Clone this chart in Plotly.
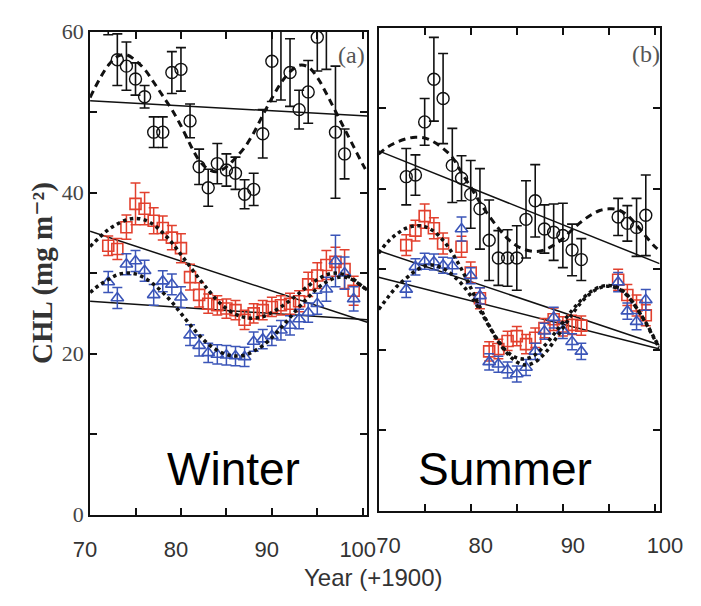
import plotly.graph_objects as go

W, H = 701, 606

# ---------------- Winter (a) ----------------
w_circ_years = [72, 73, 74, 75, 76, 77, 78, 79, 80, 81, 82, 83, 84, 85, 86, 87, 88, 89, 90, 91, 92, 93, 94, 95, 96, 97, 98]
w_circ_vals = [63.0, 56.5, 55.7, 54.1, 51.9, 47.5, 47.5, 54.9, 55.3, 48.9, 43.2, 40.6, 43.6, 42.8, 42.4, 39.8, 40.4, 47.3, 56.3, 61.5, 54.9, 50.3, 52.5, 59.3, 62.5, 47.5, 44.8]
w_circ_err = [3.4, 3.2, 3.0, 2.0, 1.4, 1.9, 1.9, 2.6, 2.7, 2.1, 2.2, 2.3, 2.5, 2.0, 2.0, 1.8, 2.0, 3.0, 5.0, 10.0, 4.2, 2.4, 3.9, 4.2, 7.2, 8.2, 3.1]

w_red_years = [72, 73, 74, 75, 76, 77, 78, 79, 80, 81, 82, 83, 84, 85, 86, 87, 88, 89, 90, 91, 92, 93, 94, 95, 96, 97, 98, 99]
w_red_vals = [33.4, 33.0, 35.7, 38.6, 38.0, 36.5, 35.6, 34.4, 33.1, 29.5, 27.3, 26.2, 26.0, 25.6, 25.4, 24.2, 25.0, 25.4, 25.8, 26.0, 26.2, 26.5, 28.6, 29.7, 31.0, 31.4, 30.5, 27.8]
w_red_err = [1.2, 1.3, 1.5, 2.6, 2.0, 1.6, 1.5, 1.5, 1.8, 1.6, 1.5, 1.2, 1.2, 1.2, 1.2, 1.2, 1.2, 1.2, 1.2, 1.2, 1.3, 1.3, 1.5, 1.6, 1.8, 1.8, 2.4, 1.8]

w_blue_years = [72, 73, 74, 75, 76, 77, 78, 79, 80, 81, 82, 83, 84, 85, 86, 87, 88, 89, 90, 91, 92, 93, 94, 95, 96, 97, 98, 99]
w_blue_vals = [28.9, 26.9, 31.1, 31.5, 30.3, 27.3, 29.0, 28.6, 27.0, 22.3, 21.0, 20.1, 19.9, 19.8, 19.7, 19.6, 21.5, 21.8, 22.2, 22.9, 23.5, 24.3, 25.1, 26.2, 28.0, 31.5, 30.0, 26.8]
w_blue_err = [1.3, 1.3, 1.3, 1.3, 1.3, 1.3, 1.3, 1.3, 1.3, 1.3, 1.3, 1.2, 1.2, 1.2, 1.2, 1.2, 1.2, 1.2, 1.2, 1.2, 1.2, 1.2, 1.2, 1.3, 1.5, 3.2, 2.0, 1.5]

fit_years = [70, 71, 72, 73, 74, 75, 76, 77, 78, 79, 80, 81, 82, 83, 84, 85, 86, 87, 88, 89, 90, 91, 92, 93, 94, 95, 96, 97, 98, 99, 100, 100.5]
w_circ_fit = [51.8, 54.0, 55.8, 56.9, 57.1, 56.4, 55.3, 53.7, 52.0, 50.3, 48.3, 46.0, 44.0, 42.9, 42.6, 43.2, 44.3, 45.6, 47.4, 49.6, 51.7, 53.6, 55.0, 55.8, 55.6, 54.3, 52.3, 50.1, 47.9, 45.7, 43.5, 42.5]
w_red_fit = [33.3, 34.4, 35.4, 36.1, 36.6, 36.8, 36.6, 36.0, 35.0, 33.8, 32.3, 30.8, 29.3, 27.9, 26.6, 25.6, 24.9, 24.5, 24.4, 24.6, 25.1, 25.8, 26.6, 27.5, 28.4, 29.2, 29.8, 30.0, 29.8, 29.2, 28.3, 27.9]
w_blue_fit = [27.6, 28.5, 29.2, 29.8, 30.0, 29.9, 29.4, 28.6, 27.6, 26.4, 25.0, 23.6, 22.3, 21.2, 20.4, 19.9, 19.7, 19.8, 20.3, 21.0, 22.0, 23.2, 24.5, 25.8, 27.0, 28.1, 28.9, 29.4, 29.5, 29.1, 28.3, 27.9]

trend_x = [70, 100.5]
w_circ_trend = [51.4, 49.5]
w_red_trend = [35.2, 23.9]
w_blue_trend = [26.5, 24.2]

# ---------------- Summer (b) ----------------
s_circ_years = [73, 74, 75, 76, 77, 78, 79, 80, 81, 82, 83, 84, 85, 86, 87, 88, 89, 90, 91, 92, 96, 97, 98, 99]
s_circ_vals = [41.5, 41.7, 48.3, 53.6, 51.2, 42.9, 41.3, 39.3, 37.5, 33.6, 31.4, 31.4, 31.4, 36.2, 38.5, 35.0, 34.6, 34.2, 32.4, 31.2, 36.5, 35.7, 35.2, 36.7]
s_circ_err = [3.5, 2.5, 2.9, 5.2, 5.6, 4.6, 2.8, 4.2, 5.0, 5.0, 3.4, 3.5, 4.0, 4.8, 4.5, 3.0, 3.5, 4.0, 3.2, 2.6, 2.3, 2.2, 3.6, 5.0]

s_red_years = [73, 74, 75, 76, 77, 79, 80, 81, 82, 83, 84, 85, 86, 87, 88, 89, 90, 91, 92, 96, 97, 98, 99]
s_red_vals = [33.0, 34.8, 36.6, 35.1, 33.2, 32.8, 29.6, 26.4, 19.8, 20.1, 21.1, 21.7, 20.7, 21.5, 22.7, 23.8, 22.9, 23.1, 23.0, 28.7, 26.8, 25.5, 24.3]
s_red_err = [1.3, 1.3, 1.5, 1.3, 1.3, 1.3, 1.3, 1.3, 1.2, 1.2, 1.2, 1.2, 1.2, 1.2, 1.2, 1.4, 1.2, 1.2, 1.2, 1.3, 1.3, 1.3, 1.3]

s_blue_years = [73, 74, 75, 76, 77, 78, 79, 80, 81, 82, 83, 84, 85, 86, 87, 88, 89, 90, 91, 92, 96, 97, 98, 99]
s_blue_vals = [27.5, 30.3, 31.0, 30.9, 30.5, 30.4, 35.0, 29.2, 26.7, 18.5, 18.2, 17.5, 17.0, 17.8, 19.8, 22.3, 24.0, 22.4, 21.0, 19.8, 28.4, 24.8, 23.5, 26.2]
s_blue_err = [1.0, 1.0, 1.0, 1.0, 1.0, 1.0, 1.5, 1.0, 1.0, 1.0, 1.0, 1.0, 1.0, 1.0, 1.0, 1.0, 1.3, 1.0, 1.0, 1.0, 1.2, 1.0, 1.0, 1.3]

s_circ_fit = [44.3, 45.2, 45.8, 46.2, 46.4, 46.3, 45.8, 45.0, 43.9, 42.0, 40.2, 38.3, 36.6, 35.1, 33.8, 32.9, 32.4, 32.2, 32.4, 33.0, 33.8, 34.9, 35.9, 36.7, 37.3, 37.5, 37.4, 36.7, 35.5, 34.1, 32.8, 32.3]
s_red_fit = [32.0, 33.4, 34.4, 35.1, 35.4, 35.3, 34.7, 33.6, 32.0, 30.0, 27.7, 25.3, 23.0, 21.1, 19.7, 19.0, 18.9, 19.4, 20.5, 21.9, 23.4, 24.9, 26.2, 27.2, 27.8, 28.0, 27.7, 26.8, 25.2, 23.3, 21.2, 20.2]
s_blue_fit = [25.0, 26.5, 27.9, 28.9, 29.8, 30.4, 30.5, 30.1, 29.3, 28.2, 26.7, 24.9, 22.9, 21.0, 19.5, 18.5, 18.1, 18.5, 19.5, 21.0, 22.7, 24.4, 25.9, 27.0, 27.7, 27.9, 27.6, 26.7, 25.2, 23.4, 21.3, 20.3]

s_circ_trend = [44.7, 30.7]
s_red_trend = [32.3, 20.6]
s_blue_trend = [29.0, 20.1]

x_tickvals = [70, 75, 80, 85, 90, 95, 100]
x_ticktext = ["70", "", "80", "", "90", "", "100"]
y_tickvals = [0, 10, 20, 30, 40, 50, 60]
y_ticktext_a = ["0", "", "20", "", "40", "", "60"]
y_ticktext_b = ["", "", "", "", "", "", ""]

RED = "#e2402e"
BLUE = "#3b55b8"
BLACK = "#111111"

fig = go.Figure()


def panel(xa, ya, cy, cv, ce, ry, rv, re_, by, bv, be, cfit, rfit, bfit, ctr, rtr, btr):
    # linear trends
    for tr in (ctr, rtr, btr):
        fig.add_trace(go.Scatter(x=trend_x, y=tr, mode="lines", xaxis=xa, yaxis=ya,
                                 line=dict(color=BLACK, width=1.5), showlegend=False, hoverinfo="skip"))
    # data
    fig.add_trace(go.Scatter(x=cy, y=cv, mode="markers", xaxis=xa, yaxis=ya,
                             marker=dict(symbol="circle-open", size=12, color=BLACK, line=dict(width=1.4)),
                             error_y=dict(type="data", array=ce, color=BLACK, thickness=1.6, width=5),
                             showlegend=False))
    fig.add_trace(go.Scatter(x=ry, y=rv, mode="markers", xaxis=xa, yaxis=ya,
                             marker=dict(symbol="square-open", size=11, color=RED, line=dict(width=1.6)),
                             error_y=dict(type="data", array=re_, color=RED, thickness=1.5, width=5),
                             showlegend=False))
    fig.add_trace(go.Scatter(x=by, y=bv, mode="markers", xaxis=xa, yaxis=ya,
                             marker=dict(symbol="triangle-up-open", size=11, color=BLUE, line=dict(width=1.6)),
                             error_y=dict(type="data", array=be, color=BLUE, thickness=1.5, width=5),
                             showlegend=False))
    # fits
    fig.add_trace(go.Scatter(x=fit_years, y=cfit, mode="lines", xaxis=xa, yaxis=ya, line_shape="spline",
                             line=dict(color=BLACK, width=3, dash="7px,5px"), showlegend=False, hoverinfo="skip"))
    for f in (rfit, bfit):
        fig.add_trace(go.Scatter(x=fit_years, y=f, mode="lines", xaxis=xa, yaxis=ya, line_shape="spline",
                                 line=dict(color=BLACK, width=3.5, dash="dot"), showlegend=False, hoverinfo="skip"))


panel("x", "y", w_circ_years, w_circ_vals, w_circ_err, w_red_years, w_red_vals, w_red_err,
      w_blue_years, w_blue_vals, w_blue_err, w_circ_fit, w_red_fit, w_blue_fit,
      w_circ_trend, w_red_trend, w_blue_trend)
panel("x2", "y2", s_circ_years, s_circ_vals, s_circ_err, s_red_years, s_red_vals, s_red_err,
      s_blue_years, s_blue_vals, s_blue_err, s_circ_fit, s_red_fit, s_blue_fit,
      s_circ_trend, s_red_trend, s_blue_trend)

XFONT = dict(family="Liberation Sans, Arial", size=22, color="#333333")
YFONT = dict(family="Liberation Serif, Times New Roman, serif", size=22, color="#444444")

common_x = dict(range=[70, 100.5], tickvals=x_tickvals, ticktext=x_ticktext, ticks="inside", ticklen=7,
                tickwidth=2, tickcolor=BLACK, showline=True, linecolor=BLACK, linewidth=2, mirror="ticks",
                showgrid=False, zeroline=False, tickfont=XFONT, ticklabelstandoff=14,
                ticklabeloverflow="allow")
common_y = dict(range=[0, 60], tickvals=y_tickvals, ticks="inside", ticklen=7, tickwidth=2,
                tickcolor=BLACK, showline=True, linecolor=BLACK, linewidth=2, mirror="ticks",
                showgrid=False, zeroline=False, tickfont=YFONT, ticklabeloverflow="allow")

fig.update_layout(
    width=W, height=H,
    margin=dict(l=0, r=0, t=0, b=0),
    paper_bgcolor="white", plot_bgcolor="white",
    xaxis=dict(common_x, domain=[69 / W, 363 / W], anchor="y", ticklabelshift=-5),
    yaxis=dict(common_y, domain=[1 - 516 / H, 1 - 12 / H], anchor="x", ticktext=y_ticktext_a,
               title=dict(text="CHL (mg m\u207b\u00b2)", standoff=0,
                          font=dict(family="Liberation Serif, DejaVu Serif, serif", size=29,
                                    color="#333333", weight="bold"))),
    xaxis2=dict(common_x, domain=[375 / W, 673 / W], anchor="y2", ticklabelshift=10),
    yaxis2=dict(common_y, domain=[1 - 512 / H, 1 - 8 / H], anchor="x2", ticktext=y_ticktext_b),
    annotations=[
        dict(text="Year (+1900)", x=370 / W, y=1 - 581 / H, xref="paper", yref="paper",
             showarrow=False, xanchor="center", yanchor="middle",
             font=dict(family="Liberation Sans, Arial", size=24, color="#333333")),
        dict(text="Winter", x=221 / W, y=1 - 468 / H, xref="paper", yref="paper",
             showarrow=False, xanchor="center", yanchor="middle",
             font=dict(family="Liberation Sans, Arial", size=46, color="black")),
        dict(text="Summer", x=509 / W, y=1 - 468 / H, xref="paper", yref="paper",
             showarrow=False, xanchor="center", yanchor="middle",
             font=dict(family="Liberation Sans, Arial", size=46, color="black")),
        dict(text="(a)", x=346 / W, y=1 - 37 / H, xref="paper", yref="paper",
             showarrow=False, xanchor="center", yanchor="middle",
             font=dict(family="Liberation Serif, Times New Roman, serif", size=24, color="#555555")),
        dict(text="(b)", x=659 / W, y=1 - 35 / H, xref="paper", yref="paper",
             showarrow=False, xanchor="center", yanchor="middle",
             font=dict(family="Liberation Serif, Times New Roman, serif", size=24, color="#555555")),
    ],
)

fig.write_html("out.html")
